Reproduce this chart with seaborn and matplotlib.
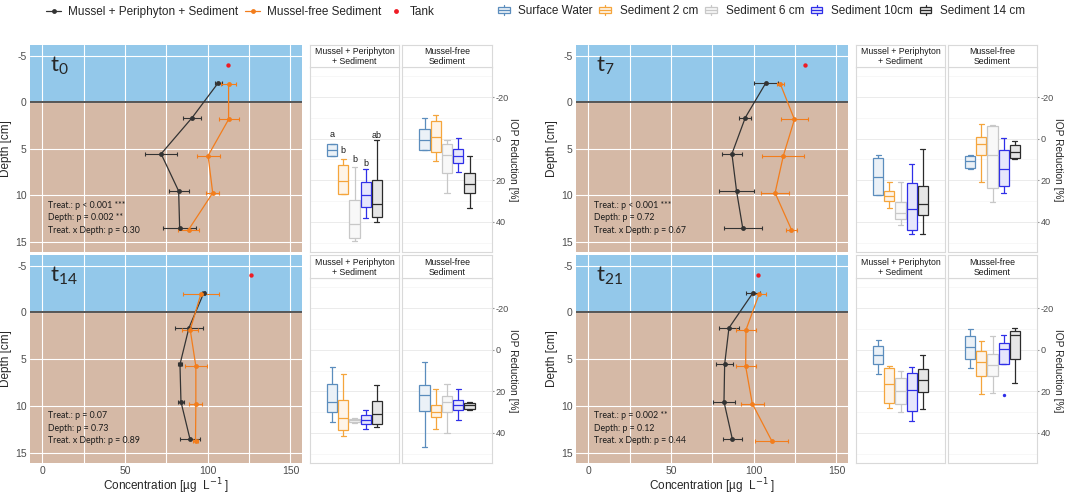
import numpy as np
import pandas as pd
import matplotlib
matplotlib.use('Agg')
from matplotlib import pyplot as plt
from matplotlib.lines import Line2D
from matplotlib.patches import Rectangle
from matplotlib.legend_handler import HandlerBase
from matplotlib.colors import to_rgb
import seaborn as sns

# ---- values ----
times = ['0', '7', '14', '21']
layers = ['Surface Water', 'Sediment 2 cm', 'Sediment 6 cm', 'Sediment 10cm', 'Sediment 14 cm']

depth_mussel = [-2.1, 1.65, 5.55, 9.55, 13.5]
depth_free = [-1.95, 1.85, 5.75, 9.75, 13.7]
depth_tank = -4.0

conc_mussel = [[106.4, 90.6, 71.8, 82.4, 83.0],
               [107.4, 94.9, 86.8, 89.6, 93.3],
               [97.6, 88.6, 83.2, 83.8, 89.2],
               [99.5, 85.0, 82.4, 82.0, 87.0]]
err_mussel = [[2.0, 5.4, 9.5, 6.0, 10.0],
              [7.4, 3.7, 6.2, 10.7, 11.5],
              [1.0, 8.5, 1.0, 2.0, 6.0],
              [4.0, 6.0, 5.0, 6.8, 5.8]]
conc_free = [[112.6, 112.6, 100.2, 103.0, 88.4],
             [116.1, 124.6, 117.9, 112.9, 122.8],
             [95.8, 89.4, 92.8, 92.8, 92.6],
             [103.2, 95.3, 95.1, 99.1, 110.8]]
err_free = [[4.5, 6.0, 7.0, 4.0, 6.5],
            [2.0, 8.0, 12.7, 8.6, 3.2],
            [11.0, 5.0, 6.5, 4.0, 1.5],
            [4.3, 6.0, 6.0, 7.0, 10.0]]
conc_tank = [112.2, 130.8, 126.2, 102.4]

stats_text = ['Treat.: p < 0.001 ***\nDepth: p = 0.002 **\nTreat. x Depth: p = 0.30',
              'Treat.: p < 0.001 ***\nDepth: p = 0.72\nTreat. x Depth: p = 0.67',
              'Treat.: p = 0.07\nDepth: p = 0.73\nTreat. x Depth: p = 0.89',
              'Treat.: p = 0.002 **\nDepth: p = 0.12\nTreat. x Depth: p = 0.44']

# IOP reduction boxes: [lower whisker, q1, median, q3, upper whisker]
iop_mussel_t0 = [[2.4, 2.4, 5.3, 8.5, 8.5],
                 [9.6, 12.8, 20.3, 26.8, 26.8],
                 [13.6, 29.7, 41.0, 47.8, 49.1],
                 [14.7, 21.0, 27.1, 33.0, 38.3],
                 [0.8, 20.1, 31.6, 37.5, 39.9]]
iop_free_t0 = [[-10.0, -4.8, 0.8, 5.3, 5.3],
               [-11.6, -8.3, -0.8, 6.4, 10.7],
               [0.8, 2.4, 7.7, 16.3, 26.3],
               [-0.5, 5.1, 8.5, 11.5, 16.0],
               [8.5, 16.7, 21.7, 26.3, 33.2]]
iop_mussel_t7 = [[8.0, 9.1, 18.2, 27.1, 27.1],
                 [21.0, 25.2, 27.6, 30.0, 33.2],
                 [20.7, 30.6, 35.9, 38.6, 41.5],
                 [12.0, 21.5, 34.0, 44.0, 45.8],
                 [5.1, 22.8, 31.3, 36.7, 45.9]]
iop_free_t7 = [[7.6, 8.1, 10.8, 13.9, 14.4],
               [-7.2, -1.0, 2.4, 8.0, 21.0],
               [-6.7, -5.9, 8.0, 23.6, 30.3],
               [-0.5, 5.3, 14.4, 22.8, 26.3],
               [1.3, 3.2, 6.4, 9.2, 10.0]]
iop_mussel_t14 = [[8.1, 16.7, 25.3, 30.1, 34.9],
                  [11.8, 24.4, 32.8, 38.4, 41.7],
                  [33.0, 33.4, 34.0, 34.7, 35.2],
                  [29.0, 31.2, 33.6, 35.7, 38.0],
                  [17.0, 24.5, 30.9, 35.7, 37.4]]
iop_free_t14 = [[5.9, 16.9, 21.7, 29.3, 47.0],
                [19.1, 26.8, 29.9, 32.5, 38.2],
                [16.6, 22.1, 25.2, 29.8, 40.1],
                [18.9, 24.4, 26.6, 29.0, 33.8],
                [25.0, 25.5, 26.8, 28.7, 29.0]]
iop_mussel_t21 = [[-4.8, -1.6, 2.4, 7.0, 11.5],
                  [7.8, 8.6, 16.7, 25.6, 27.9],
                  [10.4, 13.4, 19.7, 26.3, 29.9],
                  [8.1, 11.0, 19.4, 29.3, 34.1],
                  [2.4, 9.4, 14.5, 20.2, 28.7]]
iop_free_t21 = [[-9.9, -6.4, -1.1, 4.3, 8.6],
                [-4.1, 0.5, 5.9, 12.6, 21.3],
                [-6.4, 2.1, 7.5, 12.6, 21.0],
                [-7.0, -3.0, -0.2, 6.7, 6.7],
                [-10.5, -8.9, -7.3, 4.3, 15.8]]
outlier_t21_free = [3, 21.8]   # layer index, value

letters_t0 = ['a', 'b', 'b', 'b', 'ab']
letters_t0_y = [-1.9, 5.6, 9.9, 11.8, -1.6]

iop_mussel = [iop_mussel_t0, iop_mussel_t7, iop_mussel_t14, iop_mussel_t21]
iop_free = [iop_free_t0, iop_free_t7, iop_free_t14, iop_free_t21]

# ---- style ----
col_mussel = '#333333'
col_free = '#f27d1c'
col_tank = '#ee1c25'
col_water = '#93c8ea'
col_sed = '#d5b9a6'
box_colors = ['#5b8dbd', '#f5a53c', '#c8c8c8', '#2f2fe8', '#2b2b2b']
box_fills = [tuple(0.12 * np.array(to_rgb(c)) + 0.88) for c in box_colors]

sns.set_style('white')
plt.rcParams['font.family'] = ['Liberation Sans', 'DejaVu Sans']
plt.rcParams['axes.unicode_minus'] = False

W, H = 1065, 495
fig = plt.figure(figsize=(W / 100, H / 100), dpi=100)


def ax_px(l, t, r, b):
    return fig.add_axes([l / W, 1 - b / H, (r - l) / W, (b - t) / H])


def profile(ax, i, bottom):
    ax.axhspan(-10, 0, color=col_water, lw=0, zorder=0.1)
    ax.axhspan(0, 20, color=col_sed, lw=0, zorder=0.1)
    ax.axhline(0, color='#555555', lw=1.4, zorder=1)
    ax.errorbar(conc_mussel[i], depth_mussel, xerr=err_mussel[i], fmt='none', ecolor=col_mussel,
                elinewidth=0.8, capsize=1.5, capthick=0.8, zorder=3)
    ax.errorbar(conc_free[i], depth_free, xerr=err_free[i], fmt='none', ecolor=col_free,
                elinewidth=0.8, capsize=1.5, capthick=0.8, zorder=3)
    sns.lineplot(x=conc_mussel[i], y=depth_mussel, sort=False, estimator=None, color=col_mussel,
                 lw=0.9, marker='o', markersize=3.5, markeredgewidth=0, ax=ax, zorder=4)
    sns.lineplot(x=conc_free[i], y=depth_free, sort=False, estimator=None, color=col_free,
                 lw=0.9, marker='o', markersize=3.5, markeredgewidth=0, ax=ax, zorder=4)
    sns.scatterplot(x=[conc_tank[i]], y=[depth_tank], color=col_tank, s=10, linewidth=0, ax=ax, zorder=5)
    ax.set_xlim(-7.5, 157)
    ax.set_ylim(16.1, -6.15)
    ax.set_xticks([0, 50, 100, 150])
    ax.set_xticks([25, 75, 125], minor=True)
    ax.set_yticks([-5, 0, 5, 10, 15])
    ax.set_axisbelow(True)
    ax.grid(which='both', color='white', lw=0.8)
    for s in ax.spines.values():
        s.set_visible(False)
    ax.tick_params(which='major', length=0, labelsize=7.5, labelcolor='#4d4d4d', pad=2.5)
    ax.tick_params(axis='x', which='major', pad=2)
    ax.tick_params(which='minor', length=0)
    ax.set_ylabel('Depth [cm]', fontsize=8.5, labelpad=2)
    if bottom:
        ax.set_xlabel('Concentration [µg  L$^{-1}$ ]', fontsize=8.5, labelpad=0.5)
    else:
        ax.tick_params(axis='x', labelbottom=False)
        ax.set_xlabel('')
    ax.text(4.5, -3.9, r'$\mathregular{t_{%s}}$' % times[i], fontsize=16, family='Lato', va='center')
    ax.text(3.5, 12.4, stats_text[i], fontsize=6.3, family='Lato', va='center', linespacing=1.5,
            color='#1a1a1a')


def boxpanel(ax, sax, vals, strip, right, letters=None, letters_y=None, outlier=None):
    for k in range(5):
        sns.boxplot(x=np.full(5, k), y=vals[k], native_scale=True, orient='x', width=0.9,
                    whis=(0, 100), color=box_fills[k], linecolor=box_colors[k], saturation=1,
                    linewidth=0.9, showfliers=False, ax=ax)
    if outlier is not None:
        sns.scatterplot(x=[outlier[0]], y=[outlier[1]], color=box_colors[outlier[0]], s=6,
                        linewidth=0, ax=ax)
    if letters is not None:
        for k in range(5):
            ax.text(k, letters_y[k], letters[k], ha='center', va='center', fontsize=6.5, color='#1a1a1a')
    ax.set_xlim(-2, 6)
    ax.set_ylim(54.5, -34.5)
    ax.set_xticks([])
    ax.set_yticks([-20, 0, 20, 40])
    ax.set_yticks([-30, -10, 10, 30, 50], minor=True)
    ax.set_axisbelow(True)
    ax.grid(axis='y', which='major', color='#ebebeb', lw=0.7)
    ax.grid(axis='y', which='minor', color='#f4f4f4', lw=0.5)
    ax.grid(axis='x', visible=False)
    ax.set_xlabel('')
    for s in ax.spines.values():
        s.set_color('#d9d9d9')
        s.set_linewidth(0.8)
    ax.tick_params(which='minor', length=0)
    if right:
        ax.yaxis.tick_right()
        ax.yaxis.set_label_position('right')
        ax.tick_params(axis='y', which='major', length=1.5, color='#999999', labelsize=6.6,
                       labelcolor='#4d4d4d', pad=1)
        ax.set_ylabel('IOP Reduction [%]', rotation=270, va='bottom', fontsize=7.3, labelpad=-0.5)
    else:
        ax.tick_params(axis='y', which='major', length=0, labelleft=False)
        ax.set_ylabel('')
    sax.set_xticks([])
    sax.set_yticks([])
    sax.set_facecolor('white')
    for s in sax.spines.values():
        s.set_color('#d9d9d9')
        s.set_linewidth(0.8)
    sax.text(0.5, 0.47, strip, ha='center', va='center', fontsize=6.3, linespacing=1.1,
             transform=sax.transAxes, color='#1a1a1a')


rows = [(45, 252, 67), (255, 463, 278)]
cols = [(30, 302, 310, 399, 402, 492), (576, 848, 856, 945, 948, 1037)]
panel_idx = [(0, 0), (0, 1), (1, 0), (1, 1)]

for i, (r, c) in enumerate(panel_idx):
    top, bot, strip_bot = rows[r]
    pl, pr, f1l, f1r, f2l, f2r = cols[c]
    ax = ax_px(pl, top, pr, bot)
    profile(ax, i, bottom=(r == 1))
    a1 = ax_px(f1l, strip_bot, f1r, bot)
    s1 = ax_px(f1l, top, f1r, strip_bot)
    a2 = ax_px(f2l, strip_bot, f2r, bot)
    s2 = ax_px(f2l, top, f2r, strip_bot)
    if i == 0:
        boxpanel(a1, s1, iop_mussel[i], 'Mussel + Periphyton\n+ Sediment', False, letters_t0, letters_t0_y)
    else:
        boxpanel(a1, s1, iop_mussel[i], 'Mussel + Periphyton\n+ Sediment', False)
    boxpanel(a2, s2, iop_free[i], 'Mussel-free\nSediment', True,
             outlier=outlier_t21_free if i == 3 else None)


class BoxKey(HandlerBase):
    def create_artists(self, legend, orig_handle, xdescent, ydescent, width, height, fontsize, trans):
        ec = orig_handle.get_edgecolor()
        fc = orig_handle.get_facecolor()
        x0 = -xdescent + width * 0.12
        w = width * 0.76
        y0 = -ydescent
        box = Rectangle((x0, y0 + height * 0.15), w, height * 0.7, facecolor=fc, edgecolor=ec,
                        lw=0.9, transform=trans)
        med = Line2D([x0, x0 + w], [y0 + height * 0.5] * 2, color=ec, lw=0.9, transform=trans)
        wt = Line2D([x0 + w / 2] * 2, [y0 + height * 0.85, y0 + height * 1.1], color=ec, lw=0.9, transform=trans)
        wb = Line2D([x0 + w / 2] * 2, [y0 - height * 0.1, y0 + height * 0.15], color=ec, lw=0.9, transform=trans)
        return [box, med, wt, wb]


line_handles = [Line2D([], [], color=col_mussel, marker='o', markersize=3.5, lw=0.9, markeredgewidth=0),
                Line2D([], [], color=col_free, marker='o', markersize=3.5, lw=0.9, markeredgewidth=0),
                Line2D([], [], color=col_tank, marker='o', markersize=3.5, lw=0, markeredgewidth=0)]
fig.legend(line_handles, ['Mussel + Periphyton + Sediment', 'Mussel-free Sediment', 'Tank'],
           loc='center left', bbox_to_anchor=(46 / W, 1 - 12 / H), ncol=3, frameon=False,
           fontsize=8.5, handlelength=1.3, handletextpad=0.55, columnspacing=0.6,
           borderpad=0, borderaxespad=0)

box_handles = [Rectangle((0, 0), 1, 1, facecolor=f, edgecolor=c) for c, f in zip(box_colors, box_fills)]
fig.legend(box_handles, layers, loc='center left', bbox_to_anchor=(496 / W, 1 - 11 / H), ncol=5,
           frameon=False, fontsize=8.5, handlelength=1.3, handletextpad=0.6, columnspacing=0.4,
           borderpad=0, borderaxespad=0, handler_map={Rectangle: BoxKey()})

fig.savefig('out.png', dpi=100)
